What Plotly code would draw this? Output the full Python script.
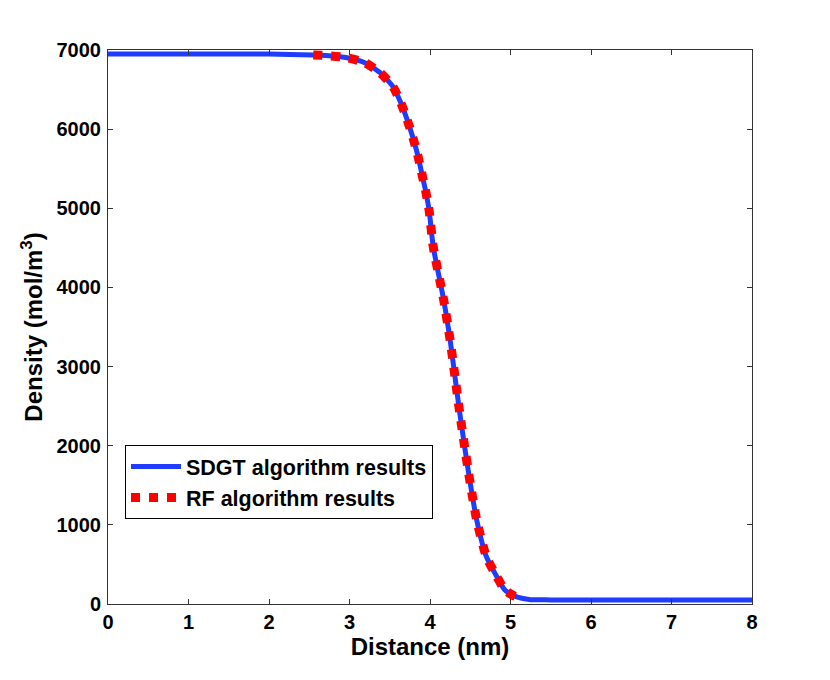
import plotly.graph_objects as go

# SDGT algorithm results (blue solid line)
sdgt_x = [0.0, 1.0, 2.0, 2.55, 2.74, 2.97, 3.19, 3.38, 3.54, 3.64, 3.72, 3.79, 3.85, 3.90, 3.95, 3.99,
          4.04, 4.17, 4.25, 4.31, 4.37, 4.43, 4.50, 4.58, 4.70, 4.83, 4.93, 5.05, 5.14, 5.25, 5.5, 6.0, 7.0, 8.0]
sdgt_y = [6950, 6950, 6948, 6937, 6928, 6903, 6840, 6714, 6537, 6326, 6107, 5884, 5661, 5430, 5198, 4966,
          4515, 3841, 3336, 2872, 2410, 1988, 1525, 1061, 598, 345, 177, 100, 72, 55, 52, 50, 50, 50]

# RF algorithm results (red dotted line)
rf_x = [2.55, 2.74, 2.97, 3.19, 3.38, 3.54, 3.64, 3.72, 3.79, 3.85, 3.90, 3.95, 3.99,
        4.04, 4.17, 4.25, 4.31, 4.37, 4.43, 4.50, 4.58, 4.70, 4.83, 4.93, 5.05, 5.14]
rf_y = [6937, 6928, 6903, 6840, 6714, 6537, 6326, 6107, 5884, 5661, 5430, 5198, 4966,
        4515, 3841, 3336, 2872, 2410, 1988, 1525, 1061, 598, 345, 177, 100, 72]

x_ticks = [0, 1, 2, 3, 4, 5, 6, 7, 8]
y_ticks = [0, 1000, 2000, 3000, 4000, 5000, 6000, 7000]

FONT = "Liberation Sans"

fig = go.Figure()
fig.add_trace(go.Scatter(x=sdgt_x, y=sdgt_y, mode="lines", name="SDGT algorithm results",
                         line=dict(color="#1f3cff", width=5, shape="spline", smoothing=0.6)))
fig.add_trace(go.Scatter(x=rf_x, y=rf_y, mode="lines", name="RF algorithm results",
                         line=dict(color="#ff0000", width=9, dash="9px,9px", shape="spline", smoothing=0.6)))

axis_common = dict(showline=True, linecolor="#333333", linewidth=1, mirror="allticks",
                   ticks="inside", ticklen=5, tickcolor="#333333", showgrid=False, zeroline=False,
                   tickfont=dict(family=FONT, size=20, color="black", weight="bold"))

fig.update_layout(
    width=830, height=680,
    margin=dict(l=100, r=86, t=42, b=84),
    plot_bgcolor="white", paper_bgcolor="white",
    font=dict(family=FONT, color="black"),
    xaxis=dict(range=[0, 8], tickvals=x_ticks,
               title=dict(text="Distance (nm)", font=dict(family=FONT, size=24, weight="bold"), standoff=4),
               **axis_common),
    yaxis=dict(range=[0, 7000], tickvals=y_ticks, ticklabelstandoff=2,
               title=dict(text="Density (mol/m<sup>3</sup>)", font=dict(family=FONT, size=24, weight="bold"), standoff=7),
               **axis_common),
    legend=dict(x=0.0264, y=0.287, xanchor="left", yanchor="top",
                bgcolor="white", bordercolor="black", borderwidth=1,
                font=dict(family=FONT, size=21.5, color="black", weight="bold"),
                tracegroupgap=0, itemwidth=50),
    showlegend=True,
)

fig.write_html("out.html")
